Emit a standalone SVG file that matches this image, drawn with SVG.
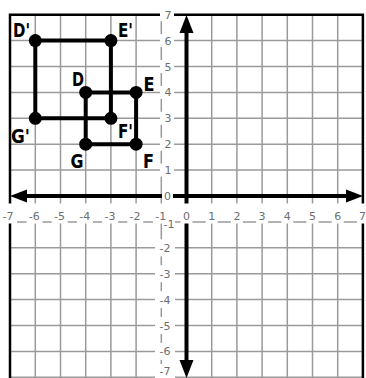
<svg xmlns="http://www.w3.org/2000/svg" width="366" height="378" viewBox="0 0 366 378">
<style>
.g{stroke:#9a9a9a;stroke-width:1.5;fill:none}
.frame{stroke:#000;stroke-width:2.5;fill:none}
.ax{stroke:#000;stroke-width:4;fill:none}
.ah{fill:#000}
.bx{fill:#fff}
.n{font-family:"DejaVu Sans",sans-serif;font-size:11px;fill:#6e6e6e;text-anchor:middle}
.e{stroke:#000;stroke-width:4;fill:none;stroke-linejoin:round}
.d{fill:#000}
.l{font-family:"DejaVu Sans",sans-serif;font-size:19px;font-weight:bold;fill:#000}
</style>
<rect width="366" height="378" fill="#fff"/>
<g id="grid">
<path class="g" d="M35.3 14.7V378M60.5 14.7V378M85.7 14.7V378M110.9 14.7V378M136.1 14.7V378M161.3 14.7V378M211.7 14.7V378M236.9 14.7V378M262.1 14.7V378M287.3 14.7V378M312.5 14.7V378M337.7 14.7V378"/>
<path class="g" d="M10 40.6H363M10 66.5H363M10 92.4H363M10 118.3H363M10 144.2H363M10 170.1H363M10 221.9H363M10 247.8H363M10 273.7H363M10 299.6H363M10 325.5H363M10 351.4H363M10 377.3H363"/>
<path class="frame" d="M10 378V14.7H362.9V378"/>
</g>
<g id="axes">
<path class="ax" d="M24 196H349"/>
<path class="ax" d="M186.5 30V363"/>
<polygon class="ah" points="10,196 27,189.5 27,202.5"/>
<polygon class="ah" points="363,196 346,189.5 346,202.5"/>
<polygon class="ah" points="186.5,15 179.5,33 193.5,33"/>
<polygon class="ah" points="186.5,378 179.5,360 193.5,360"/>
</g>
<g id="axis-labels">
<g id="ylabels">
<rect class="bx" x="160" y="8.2" width="14" height="13"/><text class="n" x="168" y="18.7">7</text>
<rect class="bx" x="160" y="34.1" width="14" height="13"/><text class="n" x="168" y="44.6">6</text>
<rect class="bx" x="160" y="60" width="14" height="13"/><text class="n" x="168" y="70.5">5</text>
<rect class="bx" x="160" y="85.9" width="14" height="13"/><text class="n" x="168" y="96.4">4</text>
<rect class="bx" x="160" y="111.8" width="14" height="13"/><text class="n" x="168" y="122.3">3</text>
<rect class="bx" x="160" y="137.7" width="14" height="13"/><text class="n" x="168" y="148.2">2</text>
<rect class="bx" x="160" y="163.6" width="14" height="13"/><text class="n" x="168" y="174.1">1</text>
<rect class="bx" x="162" y="189.5" width="11" height="13"/><text class="n" x="167.5" y="200">0</text>
<rect class="bx" x="155" y="239.3" width="20" height="17"/><text class="n" x="165" y="251.8">-2</text>
<rect class="bx" x="155" y="265.2" width="20" height="17"/><text class="n" x="165" y="277.7">-3</text>
<rect class="bx" x="155" y="291.1" width="20" height="17"/><text class="n" x="165" y="303.6">-4</text>
<rect class="bx" x="155" y="317" width="20" height="17"/><text class="n" x="165" y="329.5">-5</text>
<rect class="bx" x="155" y="342.9" width="20" height="17"/><text class="n" x="165" y="355.4">-6</text>
<rect class="bx" x="155" y="364" width="20" height="14"/><text class="n" x="165" y="374.5">-7</text>
</g>
<g id="xlabels">
<rect class="bx" x="0" y="203.5" width="17" height="20"/><text class="n" x="8" y="219.8">-7</text>
<rect class="bx" x="26.5" y="203.5" width="16" height="20"/><text class="n" x="34.3" y="219.8">-6</text>
<rect class="bx" x="51.7" y="203.5" width="16" height="20"/><text class="n" x="59.5" y="219.8">-5</text>
<rect class="bx" x="76.9" y="203.5" width="16" height="20"/><text class="n" x="84.7" y="219.8">-4</text>
<rect class="bx" x="102.1" y="203.5" width="16" height="20"/><text class="n" x="109.9" y="219.8">-3</text>
<rect class="bx" x="127.3" y="203.5" width="16" height="20"/><text class="n" x="135.1" y="219.8">-2</text>
<rect class="bx" x="153" y="203.5" width="16" height="20"/><text class="n" x="160.8" y="219.8">-1</text>
<rect class="bx" x="180.5" y="203.5" width="12" height="20"/><text class="n" x="186.5" y="219.8">0</text>
<rect class="bx" x="205.7" y="203.5" width="12" height="20"/><text class="n" x="211.7" y="219.8">1</text>
<rect class="bx" x="230.9" y="203.5" width="12" height="20"/><text class="n" x="236.9" y="219.8">2</text>
<rect class="bx" x="256.1" y="203.5" width="12" height="20"/><text class="n" x="262.1" y="219.8">3</text>
<rect class="bx" x="281.3" y="203.5" width="12" height="20"/><text class="n" x="287.3" y="219.8">4</text>
<rect class="bx" x="306.5" y="203.5" width="12" height="20"/><text class="n" x="312.5" y="219.8">5</text>
<rect class="bx" x="331.7" y="203.5" width="12" height="20"/><text class="n" x="337.7" y="219.8">6</text>
<rect class="bx" x="356.9" y="203.5" width="10" height="20"/><text class="n" x="362.5" y="219.8">7</text>
</g>
<rect class="bx" x="166" y="219" width="9" height="9"/><text class="n" x="169" y="227.8">-1</text>
</g>
<g id="connectors">
<polygon class="e" points="85.7,92.4 136.1,92.4 136.1,144.2 85.7,144.2"/>
<polygon class="e" points="35.3,40.6 110.9,40.6 110.9,118.3 35.3,118.3"/>
</g>
<g id="node-D"><circle class="d" cx="85.7" cy="92.4" r="6.5"/><text class="l" x="72" y="86" textLength="12" lengthAdjust="spacingAndGlyphs">D</text></g>
<g id="node-E"><circle class="d" cx="136.1" cy="92.4" r="6.5"/><text class="l" x="143.5" y="91" textLength="11" lengthAdjust="spacingAndGlyphs">E</text></g>
<g id="node-F"><circle class="d" cx="136.1" cy="144.2" r="6.5"/><text class="l" x="143" y="168" textLength="11" lengthAdjust="spacingAndGlyphs">F</text></g>
<g id="node-G"><circle class="d" cx="85.7" cy="144.2" r="6.5"/><text class="l" x="70.5" y="168" textLength="13" lengthAdjust="spacingAndGlyphs">G</text></g>
<g id="node-D-prime"><circle class="d" cx="35.3" cy="40.6" r="6.5"/><text class="l" x="13" y="37" textLength="17" lengthAdjust="spacingAndGlyphs">D'</text></g>
<g id="node-E-prime"><circle class="d" cx="110.9" cy="40.6" r="6.5"/><text class="l" x="118" y="37" textLength="15" lengthAdjust="spacingAndGlyphs">E'</text></g>
<g id="node-F-prime"><circle class="d" cx="110.9" cy="118.3" r="6.5"/><text class="l" x="118" y="138" textLength="15" lengthAdjust="spacingAndGlyphs">F'</text></g>
<g id="node-G-prime"><circle class="d" cx="35.3" cy="118.3" r="6.5"/><text class="l" x="11" y="143" textLength="19" lengthAdjust="spacingAndGlyphs">G'</text></g>
</svg>
